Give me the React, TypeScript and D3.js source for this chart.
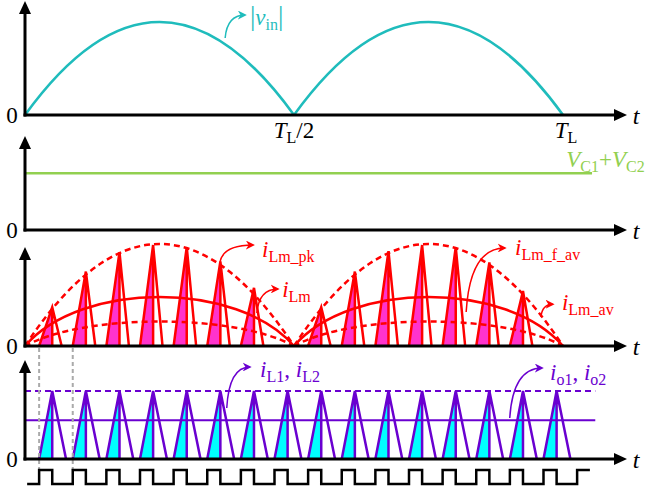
import React from 'react';
import * as d3 from 'd3';

const WIDTH = 649;
const HEIGHT = 492;
const FONT = "'Liberation Serif', 'Times New Roman', serif";

// Time is measured in line periods T_L; one switching period is T_L / 16.
const SWITCH_PERIOD = 1 / 16;
const SWITCH_PHASE = 0.42; // turn-on instant inside each period (fraction of Ts)
const DUTY = 0.39; // on-time (fraction of Ts)
const LM_FALL = 0.28; // magnetizing current reset time (fraction of Ts)
const L_FALL = 0.41; // inductor current reset time (fraction of Ts)
const HALF_CYCLES: [number, number][] = [[0, 0.5], [0.5, 1]];
const GATE_PULSES = 17;
const GATE_START = 0.004;
const GATE_END = 1.05;
const LINE_END = 1.06;
const AXIS_END = 1.119;

// Envelope peaks (per panel units)
const vinPeak = 1;
const vcSum = 0.61;
const iLmPk = 1;
const iLmFAv = 0.48;
const iLmAv = 0.24;
const iLAv = 0.57;
const iLPk = 1;

// Peak of every magnetizing-current pulse, one per switching period
const iLmSpikePeaks = [0.38, 0.73, 0.92, 0.99, 0.97, 0.83, 0.57, 0, 0.38, 0.73, 0.93, 0.99, 0.97, 0.82, 0.54, 0];
// Peak of every inductor-current pulse
const iLSpikePeaks = [1, 1, 1, 1, 1, 1, 1, 1, 1, 1, 1, 1, 1, 1, 1, 1];

// Tick labels on the time axis
const timeTicks = [
  { t: 0.5, main: 'T', sub: 'L', tail: '/2' },
  { t: 1, main: 'T', sub: 'L', tail: '' },
];

const COLORS = {
  vin: '#1fbcbc',
  vc: '#92d050',
  red: '#ff0000',
  magenta: '#ff33cc',
  purple: '#6a00d0',
  cyan: '#00ffff',
  gray: '#aaaaaa',
};

const panels = [
  { base: 115, top: 1, unit: 93 },
  { base: 230, top: 136, unit: 93 },
  { base: 346, top: 247, unit: 102 },
  { base: 459, top: 360, unit: 68 },
];

type Part = { text: string; italic?: boolean; sub?: boolean; size?: number };
type Note = {
  panel: number;
  color: string;
  from: [number, number];
  to: [number, number];
  label: [number, number];
  parts: Part[];
};

const notes: Note[] = [
  {
    panel: 0, color: COLORS.vin, from: [0.372, 0.828], to: [0.409, 1.075], label: [0.418, 0.968],
    parts: [{ text: '|', size: 27 }, { text: 'v', italic: true }, { text: 'in', sub: true }, { text: '|', size: 27 }],
  },
  {
    panel: 2, color: COLORS.red, from: [0.3625, 0.824], to: [0.424, 0.99], label: [0.4405, 0.873],
    parts: [{ text: 'i', italic: true }, { text: 'Lm_pk', sub: true }],
  },
  {
    panel: 2, color: COLORS.red, from: [0.431, 0.324], to: [0.47, 0.559], label: [0.478, 0.48],
    parts: [{ text: 'i', italic: true }, { text: 'Lm', sub: true }],
  },
  {
    panel: 2, color: COLORS.red, from: [0.82, 0.333], to: [0.892, 0.961], label: [0.911, 0.892],
    parts: [{ text: 'i', italic: true }, { text: 'Lm_f_av', sub: true }],
  },
  {
    panel: 2, color: COLORS.red, from: [0.959, 0.284], to: [0.981, 0.41], label: [0.998, 0.353],
    parts: [{ text: 'i', italic: true }, { text: 'Lm_av', sub: true }],
  },
  {
    panel: 3, color: COLORS.purple, from: [0.375, 0.75], to: [0.418, 1.353], label: [0.437, 1.206],
    parts: [{ text: 'i', italic: true }, { text: 'L1', sub: true }, { text: ', ' }, { text: 'i', italic: true }, { text: 'L2', sub: true }],
  },
  {
    panel: 3, color: COLORS.purple, from: [0.901, 0.603], to: [0.961, 1.338], label: [0.976, 1.16],
    parts: [{ text: 'i', italic: true }, { text: 'o1', sub: true }, { text: ', ' }, { text: 'i', italic: true }, { text: 'o2', sub: true }],
  },
];

const vcLabel: Part[] = [
  { text: 'V', italic: true }, { text: 'C1', sub: true }, { text: '+' },
  { text: 'V', italic: true }, { text: 'C2', sub: true },
];

const x = d3.scaleLinear().domain([0, 1]).range([25, 563]);
const ys = panels.map((p) => d3.scaleLinear().domain([0, 1]).range([p.base, p.base - p.unit]));
const yGate = d3.scaleLinear().domain([0, 1]).range([484, 470]);

// Half-cycle arcs drawn as cubic Béziers; roundness 1/3 gives a parabola.
function arcPath(y: d3.ScaleLinear<number, number>, peak: number, roundness: number) {
  const p = d3.path();
  const k = peak / 0.75;
  for (const [a, b] of HALF_CYCLES) {
    const span = b - a;
    p.moveTo(x(a), y(0));
    p.bezierCurveTo(x(a + roundness * span), y(k), x(b - roundness * span), y(k), x(b), y(0));
  }
  return p.toString();
}

function pulses(peaks: number[], fall: number) {
  return peaks
    .map((pk, k) => {
      const on = (k + SWITCH_PHASE) * SWITCH_PERIOD;
      const tip = on + DUTY * SWITCH_PERIOD;
      const off = tip + fall * SWITCH_PERIOD;
      return { pk, on, tip, off };
    })
    .filter((d) => d.pk > 0);
}

function Label({ x0, y0, parts, color, size = 23, anchor = 'start' }: {
  x0: number; y0: number; parts: Part[]; color: string; size?: number; anchor?: string;
}) {
  let shifted = false;
  return (
    <text x={x0} y={y0} fill={color} fontFamily={FONT} fontSize={size} textAnchor={anchor as any}>
      {parts.map((p, i) => {
        let dy = 0;
        if (p.sub && !shifted) { dy = 5; shifted = true; }
        else if (!p.sub && shifted) { dy = -5; shifted = false; }
        return (
          <tspan key={i} dy={dy} fontStyle={p.italic ? 'italic' : 'normal'} fontSize={p.sub ? 16 : (p.size ?? size)}>
            {p.text}
          </tspan>
        );
      })}
    </text>
  );
}

export default function App() {
  const lmPulses = pulses(iLmSpikePeaks, LM_FALL);
  const lPulses = pulses(iLSpikePeaks, L_FALL);

  // Gate signal
  const gate = d3.path();
  gate.moveTo(x(GATE_START), yGate(0));
  for (let k = 0; k < GATE_PULSES; k++) {
    const on = (k + SWITCH_PHASE) * SWITCH_PERIOD;
    const off = on + DUTY * SWITCH_PERIOD;
    gate.lineTo(x(on), yGate(0));
    gate.lineTo(x(on), yGate(1));
    if (off < GATE_END) {
      gate.lineTo(x(off), yGate(1));
      gate.lineTo(x(off), yGate(0));
    } else {
      gate.lineTo(x(GATE_END), yGate(1));
    }
  }

  const markerColors = [COLORS.vin, COLORS.red, COLORS.purple];
  const markerId = (c: string) => 'ah' + c.replace('#', '');

  const y3 = ys[2];
  const y4 = ys[3];

  return (
    <svg width={WIDTH} height={HEIGHT} style={{ position: 'absolute', left: 0, top: 0, background: '#fff' }}>
      <defs>
        {markerColors.map((c) => (
          <marker key={c} id={markerId(c)} viewBox="0 0 10 10" refX={8} refY={5}
            markerWidth={9} markerHeight={9} markerUnits="userSpaceOnUse" orient="auto">
            <path d="M0,0 L10,5 L0,10 L3,5 z" fill={c} />
          </marker>
        ))}
      </defs>

      {/* Panel 1: rectified input voltage */}
      <path d={arcPath(ys[0], vinPeak, 1 / 3)} fill="none" stroke={COLORS.vin} strokeWidth={2.6} />

      {/* Panel 2: capacitor voltage sum */}
      <line x1={x(0)} x2={x(1.054)} y1={ys[1](vcSum)} y2={ys[1](vcSum)} stroke={COLORS.vc} strokeWidth={2.6} />
      <Label x0={x(1.006)} y0={ys[1](0.677)} parts={vcLabel} color={COLORS.vc} />

      {/* Panel 3: magnetizing current */}
      {lmPulses.map((d, i) => (
        <path key={'lf' + i} d={`M${x(d.on)},${y3(0)}L${x(d.tip)},${y3(d.pk)}L${x(d.tip)},${y3(0)}Z`} fill={COLORS.magenta} />
      ))}
      <path d={arcPath(y3, iLmPk, 1 / 3)} fill="none" stroke={COLORS.red} strokeWidth={2.5} strokeDasharray="6,4" />
      <path d={arcPath(y3, iLmFAv, 0.21)} fill="none" stroke={COLORS.red} strokeWidth={2.5} />
      <path d={arcPath(y3, iLmAv, 0.22)} fill="none" stroke={COLORS.red} strokeWidth={2.5} strokeDasharray="6,4" />
      {lmPulses.map((d, i) => (
        <path key={'ll' + i}
          d={`M${x(d.on)},${y3(0)}L${x(d.tip)},${y3(d.pk)}L${x(d.off)},${y3(0)}M${x(d.tip)},${y3(d.pk)}L${x(d.tip)},${y3(0)}`}
          fill="none" stroke={COLORS.red} strokeWidth={2.5} strokeLinejoin="miter" />
      ))}

      {/* Panel 4: inductor / output currents */}
      {lPulses.map((d, i) => (
        <path key={'pf' + i} d={`M${x(d.on)},${y4(0)}L${x(d.tip)},${y4(d.pk)}L${x(d.tip)},${y4(0)}Z`} fill={COLORS.cyan} />
      ))}
      <line x1={x(0)} x2={x(LINE_END)} y1={y4(iLPk)} y2={y4(iLPk)} stroke={COLORS.purple} strokeWidth={2.2} strokeDasharray="6,4" />
      <line x1={x(0)} x2={x(LINE_END)} y1={y4(iLAv)} y2={y4(iLAv)} stroke={COLORS.purple} strokeWidth={2.2} />
      {lPulses.map((d, i) => (
        <path key={'pl' + i}
          d={`M${x(d.on)},${y4(0)}L${x(d.tip)},${y4(d.pk)}L${x(d.off)},${y4(0)}M${x(d.tip)},${y4(d.pk)}L${x(d.tip)},${y4(0)}`}
          fill="none" stroke={COLORS.purple} strokeWidth={2.5} />
      ))}

      {/* Switching instants */}
      {[0, 1].map((k) => {
        const on = (k + SWITCH_PHASE) * SWITCH_PERIOD;
        return (
          <line key={'g' + k} x1={x(on)} x2={x(on)} y1={ys[2](0) + 2} y2={yGate(1)}
            stroke={COLORS.gray} strokeWidth={2} strokeDasharray="4,3" />
        );
      })}

      {/* Gate signal */}
      <path d={gate.toString()} fill="none" stroke="#000" strokeWidth={2.5} strokeLinejoin="miter" />

      {/* Axes */}
      {panels.map((p, i) => (
        <g key={'ax' + i}>
          <line x1={x(0)} x2={x(0)} y1={p.base + 1.5} y2={p.top + 10} stroke="#000" strokeWidth={3} />
          <path d={`M${x(0) - 6},${p.top + 13}L${x(0)},${p.top}L${x(0) + 6},${p.top + 13}Z`} fill="#000" />
          <line x1={x(0) - 1.5} x2={x(AXIS_END) - 10} y1={p.base} y2={p.base} stroke="#000" strokeWidth={3} />
          <path d={`M${x(AXIS_END) - 13},${p.base - 6}L${x(AXIS_END)},${p.base}L${x(AXIS_END) - 13},${p.base + 6}Z`} fill="#000" />
          <text x={12} y={p.base + 8} fontFamily={FONT} fontSize={23} textAnchor="middle">0</text>
          <text x={636} y={p.base + 9} fontFamily={FONT} fontSize={24} fontStyle="italic" textAnchor="middle">t</text>
        </g>
      ))}

      {/* Time tick labels */}
      {timeTicks.map((tk, i) => (
        <Label key={'tk' + i} x0={x(tk.t) + (tk.tail ? 0 : 3)} y0={ys[0](0) + 23} color="#000" anchor="middle"
          parts={[{ text: tk.main, italic: true }, { text: tk.sub, sub: true }, ...(tk.tail ? [{ text: tk.tail }] : [])]} />
      ))}

      {/* Annotations */}
      {notes.map((n, i) => {
        const y = ys[n.panel];
        const x0 = x(n.from[0]);
        const y0 = y(n.from[1]);
        const x1 = x(n.to[0]);
        const y1 = y(n.to[1]);
        const p = d3.path();
        p.moveTo(x0, y0);
        p.quadraticCurveTo(x0 + 0.1 * (x1 - x0), y1, x1, y1);
        return (
          <g key={'n' + i}>
            <path d={p.toString()} fill="none" stroke={n.color} strokeWidth={1.5} markerEnd={`url(#${markerId(n.color)})`} />
            <Label x0={x(n.label[0])} y0={y(n.label[1])} parts={n.parts} color={n.color} />
          </g>
        );
      })}
    </svg>
  );
}
